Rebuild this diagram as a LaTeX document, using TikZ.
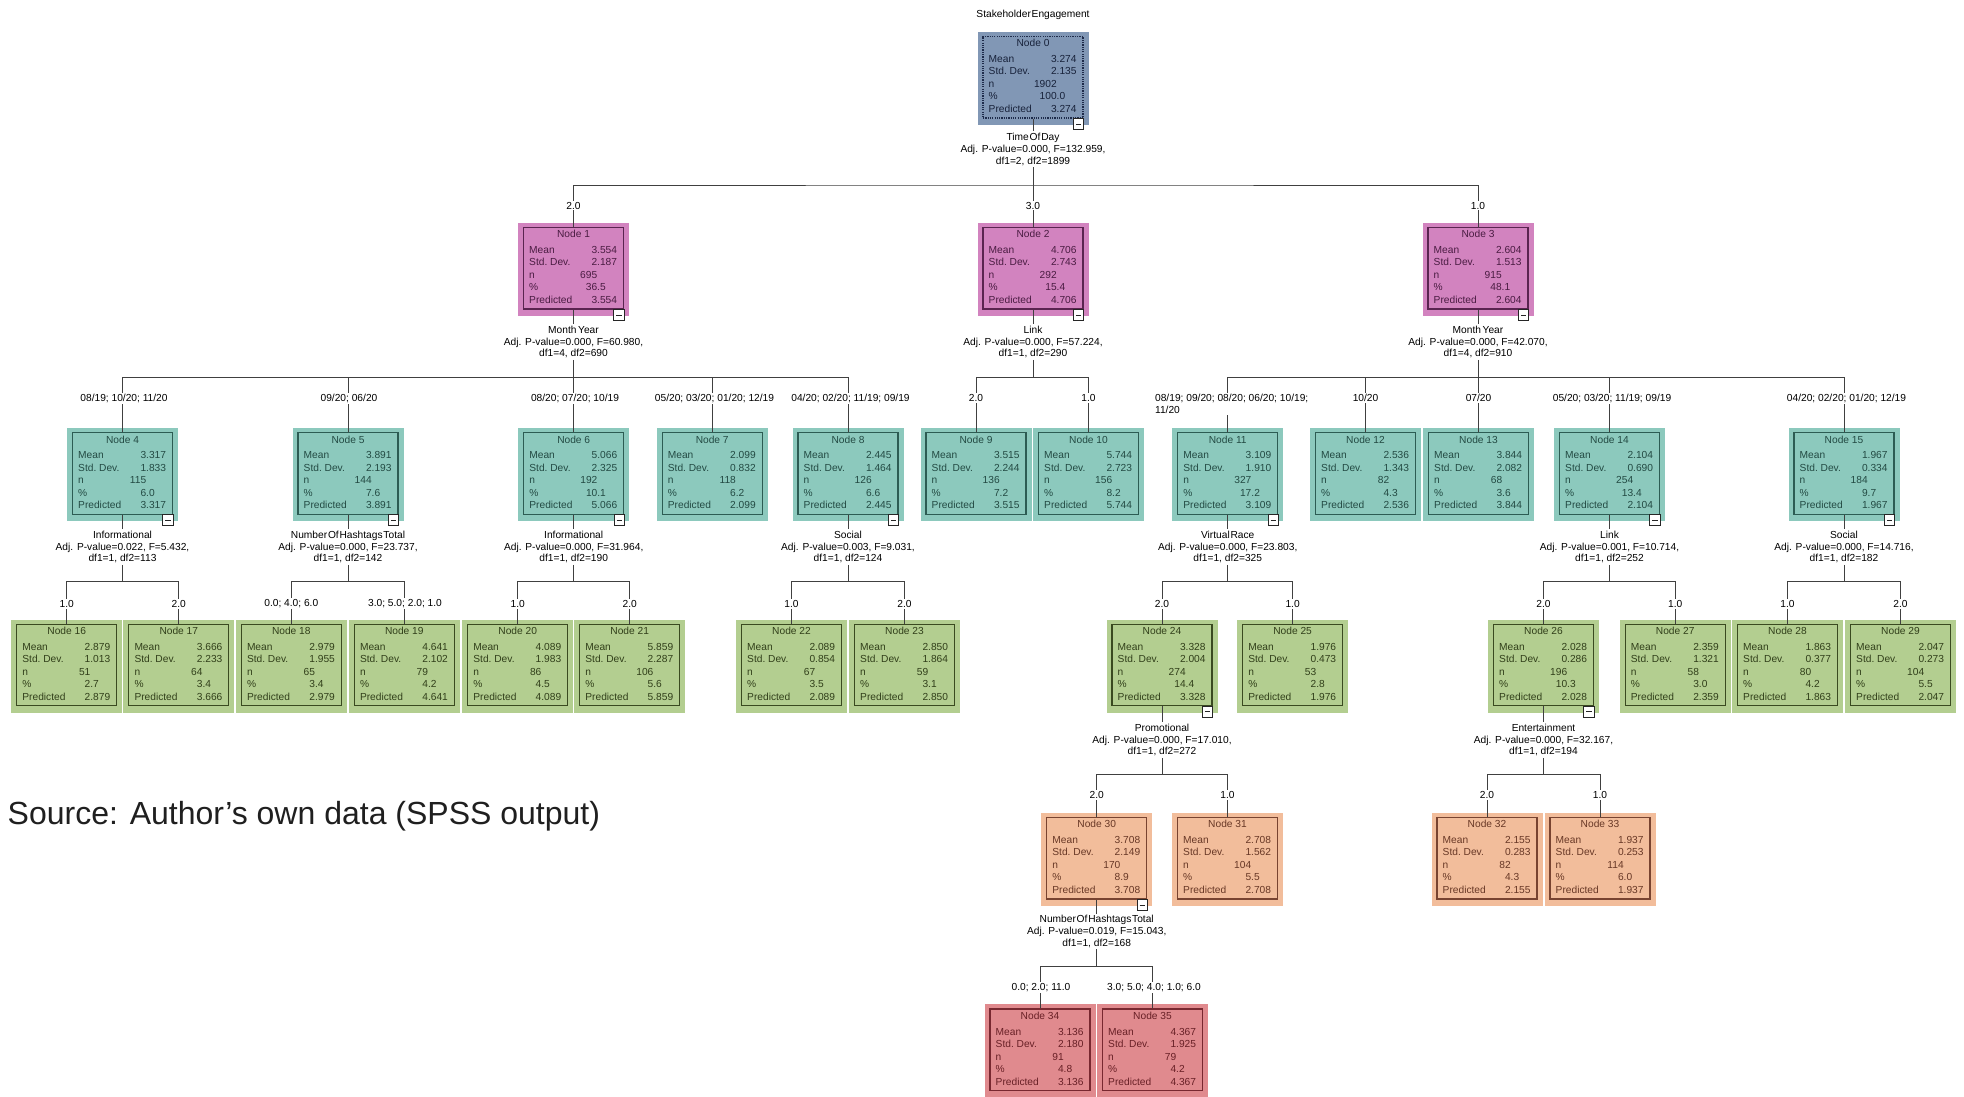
\documentclass[tikz,border=0pt]{standalone}
\usepackage{fontspec}
\setmainfont{Liberation Sans}
\usetikzlibrary{calc}

% line and level colours (background, border, text)
\definecolor{linec}{HTML}{404040}
\definecolor{bg0}{HTML}{8197B5}\definecolor{bd0}{HTML}{1E2B4A}\definecolor{tx0}{HTML}{18223A}
\definecolor{bg1}{HTML}{D283BF}\definecolor{bd1}{HTML}{5A2450}\definecolor{tx1}{HTML}{4A1C42}
\definecolor{bg2}{HTML}{8CC9BD}\definecolor{bd2}{HTML}{2C5C53}\definecolor{tx2}{HTML}{234A43}
\definecolor{bg3}{HTML}{B3CE90}\definecolor{bd3}{HTML}{3A4A20}\definecolor{tx3}{HTML}{313F1A}
\definecolor{bg4}{HTML}{F2BD9B}\definecolor{bd4}{HTML}{784330}\definecolor{tx4}{HTML}{683826}
\definecolor{bg5}{HTML}{E08A8E}\definecolor{bd5}{HTML}{782830}\definecolor{tx5}{HTML}{682026}

\newcommand\tfont{\fontsize{10.2}{11.8}\selectfont}
\newcommand\vk{\kern0.8pt}

% number aligned on its decimal point
\def\dec#1{\decA#1..\relax}
\def\decA#1.#2.#3\relax{\llap{#1}\if\relax\detokenize{#2}\relax\else\rlap{.#2}\fi}

% one statistics row: name, centre x, baseline y, level, label, value
\newcommand\statrow[6]{%
  \node[slab,text=tx#4] (#1l) at (#2-44.5,#3) {#5};
  \node[sval,text=tx#4] (#1v) at (#2+23.7,#3) {\dec{#6}};}

\def\rows#1#2#3#4#5,#6,#7,#8,#9\relax{%
  \statrow{#1a}{#2}{#3+26.7}{#4}{Mean}{#5}%
  \statrow{#1b}{#2}{#3+39.2}{#4}{Std.\ Dev.}{#6}%
  \statrow{#1c}{#2}{#3+51.7}{#4}{n}{#7}%
  \statrow{#1d}{#2}{#3+64.2}{#4}{\%}{#8}%
  \statrow{#1e}{#2}{#3+76.7}{#4}{Predicted}{#9}}

% tree node: name, centre x, top y, level, number, statistics
\newcommand\tn[6]{%
  \fill[bg#4] (#2-55.5,#3-4) rectangle (#2+55.5,#3+89);
  \node[tbox,draw=bd#4,lv#4/.try] (#1) at (#2,#3) {};
  \node[ttl,text=tx#4] (#1t) at (#2,#3+11.2) {Node #5};
  \rows{#1}{#2}{#3}{#4}#6\relax}

% collapse marker under an expanded node
\newcommand\collapse[1]{%
  \draw[mbox] ($(#1.south east)+(-10.3,0)$) rectangle ($(#1.south east)+(0,11)$);
  \draw[mbox] ($(#1.south east)+(-7.8,5.5)$) -- ($(#1.south east)+(-2.5,5.5)$);}

\begin{document}
\begin{tikzpicture}[x=1pt,y=-1pt,
  tbox/.style={rectangle,line width=1.3pt,minimum width=100pt,minimum height=81.5pt,inner sep=0pt,anchor=north},
  lv0/.style={dash pattern=on 1.2pt off 1.1pt,line width=1.7pt},
  ttl/.style={anchor=base,inner sep=0pt,font=\tfont},
  slab/.style={anchor=base west,inner sep=0pt,font=\tfont},
  sval/.style={anchor=base,inner sep=0pt,font=\tfont},
  split/.style={align=center,font=\tfont,inner sep=1.5pt,text=black},
  clab/.style={font=\tfont,inner sep=1.2pt,text=black,fill=white},
  conn/.style={draw=linec,line width=1pt},
  mbox/.style={draw=black!85,line width=0.9pt,fill=white}]

\fill[white] (0,0) rectangle (1964,1096);
\useasboundingbox (0,0) rectangle (1964,1096);
\clip (0,0) rectangle (1964,1096);

\node[clab] (title) at (1033,15) {Stakeholder\vk Engagement};

% nodes
\tn{n0}{1033}{35.7}{0}{0}{3.274,2.135,1902,100.0,3.274}
\tn{n1}{573.5}{226.7}{1}{1}{3.554,2.187,695,36.5,3.554}
\tn{n2}{1033}{226.7}{1}{2}{4.706,2.743,292,15.4,4.706}
\tn{n3}{1478}{226.7}{1}{3}{2.604,1.513,915,48.1,2.604}
\tn{n4}{122.5}{432}{2}{4}{3.317,1.833,115,6.0,3.317}
\tn{n5}{348}{432}{2}{5}{3.891,2.193,144,7.6,3.891}
\tn{n6}{573.7}{432}{2}{6}{5.066,2.325,192,10.1,5.066}
\tn{n7}{712.2}{432}{2}{7}{2.099,0.832,118,6.2,2.099}
\tn{n8}{848}{432}{2}{8}{2.445,1.464,126,6.6,2.445}
\tn{n9}{976}{432}{2}{9}{3.515,2.244,136,7.2,3.515}
\tn{n10}{1088.5}{432}{2}{10}{5.744,2.723,156,8.2,5.744}
\tn{n11}{1227.7}{432}{2}{11}{3.109,1.910,327,17.2,3.109}
\tn{n12}{1365.5}{432}{2}{12}{2.536,1.343,82,4.3,2.536}
\tn{n13}{1478.5}{432}{2}{13}{3.844,2.082,68,3.6,3.844}
\tn{n14}{1609.5}{432}{2}{14}{2.104,0.690,254,13.4,2.104}
\tn{n15}{1844}{432}{2}{15}{1.967,0.334,184,9.7,1.967}
\tn{n16}{66.7}{623.5}{3}{16}{2.879,1.013,51,2.7,2.879}
\tn{n17}{178.8}{623.5}{3}{17}{3.666,2.233,64,3.4,3.666}
\tn{n18}{291.3}{623.5}{3}{18}{2.979,1.955,65,3.4,2.979}
\tn{n19}{404.3}{623.5}{3}{19}{4.641,2.102,79,4.2,4.641}
\tn{n20}{517.7}{623.5}{3}{20}{4.089,1.983,86,4.5,4.089}
\tn{n21}{629.7}{623.5}{3}{21}{5.859,2.287,106,5.6,5.859}
\tn{n22}{791.5}{623.5}{3}{22}{2.089,0.854,67,3.5,2.089}
\tn{n23}{904.5}{623.5}{3}{23}{2.850,1.864,59,3.1,2.850}
\tn{n24}{1162}{623.5}{3}{24}{3.328,2.004,274,14.4,3.328}
\tn{n25}{1292.6}{623.5}{3}{25}{1.976,0.473,53,2.8,1.976}
\tn{n26}{1543.5}{623.5}{3}{26}{2.028,0.286,196,10.3,2.028}
\tn{n27}{1675.2}{623.5}{3}{27}{2.359,1.321,58,3.0,2.359}
\tn{n28}{1787.5}{623.5}{3}{28}{1.863,0.377,80,4.2,1.863}
\tn{n29}{1900.5}{623.5}{3}{29}{2.047,0.273,104,5.5,2.047}
\tn{n30}{1096.7}{816.7}{4}{30}{3.708,2.149,170,8.9,3.708}
\tn{n31}{1227.5}{816.7}{4}{31}{2.708,1.562,104,5.5,2.708}
\tn{n32}{1487}{816.7}{4}{32}{2.155,0.283,82,4.3,2.155}
\tn{n33}{1600}{816.7}{4}{33}{1.937,0.253,114,6.0,1.937}
\tn{n34}{1040}{1008.3}{5}{34}{3.136,2.180,91,4.8,3.136}
\tn{n35}{1152.5}{1008.3}{5}{35}{4.367,1.925,79,4.2,4.367}

% split descriptions
\node[split] (s0) at (1033,149.3) {Time\vk Of\vk Day\\Adj. P-value=0.000, F=132.959,\\df1=2, df2=1899};
\node[split] (s1) at (573.5,342) {Month\vk\vk Year\\Adj. P-value=0.000, F=60.980,\\df1=4, df2=690};
\node[split] (s2) at (1033,342) {Link\\Adj. P-value=0.000, F=57.224,\\df1=1, df2=290};
\node[split] (s3) at (1478,342) {Month\vk\vk Year\\Adj. P-value=0.000, F=42.070,\\df1=4, df2=910};
\node[split] (s4) at (122.5,547) {Informational\\Adj. P-value=0.022, F=5.432,\\df1=1, df2=113};
\node[split] (s5) at (348,547) {Number\vk Of\vk Hashtags\vk Total\\Adj. P-value=0.000, F=23.737,\\df1=1, df2=142};
\node[split] (s6) at (573.7,547) {Informational\\Adj. P-value=0.000, F=31.964,\\df1=1, df2=190};
\node[split] (s8) at (848,547) {Social\\Adj. P-value=0.003, F=9.031,\\df1=1, df2=124};
\node[split] (s11) at (1227.7,547) {Virtual\vk Race\\Adj. P-value=0.000, F=23.803,\\df1=1, df2=325};
\node[split] (s14) at (1609.5,547) {Link\\Adj. P-value=0.001, F=10.714,\\df1=1, df2=252};
\node[split] (s15) at (1844,547) {Social\\Adj. P-value=0.000, F=14.716,\\df1=1, df2=182};
\node[split] (s24) at (1162,740) {Promotional\\Adj. P-value=0.000, F=17.010,\\df1=1, df2=272};
\node[split] (s26) at (1543.5,740) {Entertainment\\Adj. P-value=0.000, F=32.167,\\df1=1, df2=194};
\node[split] (s30) at (1096.7,931.5) {Number\vk Of\vk Hashtags\vk Total\\Adj. P-value=0.019, F=15.043,\\df1=1, df2=168};

% bus points
\coordinate (b0) at (1033,185);
\coordinate (b1) at (573.5,377.7);
\coordinate (b2) at (1033,377.7);
\coordinate (b3) at (1478,377.7);
\coordinate (b4) at (122.5,581.7);
\coordinate (b5) at (348,581.7);
\coordinate (b6) at (573.7,581.7);
\coordinate (b8) at (848,581.7);
\coordinate (b11) at (1227.7,581.7);
\coordinate (b14) at (1609.5,581.7);
\coordinate (b15) at (1844,581.7);
\coordinate (b24) at (1162,774);
\coordinate (b26) at (1543.5,774);
\coordinate (b30) at (1096.7,966.7);

% connectors
\draw[conn] (n0.south) -- (s0.north) (s0.south) -- (b0);
\draw[conn] (n1.north) |- (b0) -| (n3.north);
\draw[conn] (n2.north) -- (n2.north |- b0);

\draw[conn] (n1.south) -- (s1.north) (s1.south) -- (b1);
\draw[conn] (n4.north) |- (b1) -| (n8.north);
\draw[conn] (n5.north) -- (n5.north |- b1);
\draw[conn] (n6.north) -- (n6.north |- b1);
\draw[conn] (n7.north) -- (n7.north |- b1);

\draw[conn] (n2.south) -- (s2.north) (s2.south) -- (b2);
\draw[conn] (n9.north) |- (b2) -| (n10.north);

\draw[conn] (n3.south) -- (s3.north) (s3.south) -- (b3);
\draw[conn] (n11.north) |- (b3) -| (n15.north);
\draw[conn] (n12.north) -- (n12.north |- b3);
\draw[conn] (n13.north) -- (n13.north |- b3);
\draw[conn] (n14.north) -- (n14.north |- b3);

\draw[conn] (n4.south) -- (s4.north) (s4.south) -- (b4);
\draw[conn] (n16.north) |- (b4) -| (n17.north);
\draw[conn] (n5.south) -- (s5.north) (s5.south) -- (b5);
\draw[conn] (n18.north) |- (b5) -| (n19.north);
\draw[conn] (n6.south) -- (s6.north) (s6.south) -- (b6);
\draw[conn] (n20.north) |- (b6) -| (n21.north);
\draw[conn] (n8.south) -- (s8.north) (s8.south) -- (b8);
\draw[conn] (n22.north) |- (b8) -| (n23.north);
\draw[conn] (n11.south) -- (s11.north) (s11.south) -- (b11);
\draw[conn] (n24.north) |- (b11) -| (n25.north);
\draw[conn] (n14.south) -- (s14.north) (s14.south) -- (b14);
\draw[conn] (n26.north) |- (b14) -| (n27.north);
\draw[conn] (n15.south) -- (s15.north) (s15.south) -- (b15);
\draw[conn] (n28.north) |- (b15) -| (n29.north);

\draw[conn] (n24.south) -- (s24.north) (s24.south) -- (b24);
\draw[conn] (n30.north) |- (b24) -| (n31.north);
\draw[conn] (n26.south) -- (s26.north) (s26.south) -- (b26);
\draw[conn] (n32.north) |- (b26) -| (n33.north);

\draw[conn] (n30.south) -- (s30.north) (s30.south) -- (b30);
\draw[conn] (n34.north) |- (b30) -| (n35.north);

% branch labels, set over the connectors
\node[clab] (c1) at (573.5,205.5) {2.0};
\node[clab] (c2) at (1033,205.5) {3.0};
\node[clab] (c3) at (1478,205.5) {1.0};
\node[clab] (c4) at (124,398.3) {08/19; 10/20; 11/20};
\node[clab] (c5) at (349,398.3) {09/20; 06/20};
\node[clab] (c6) at (575,398.3) {08/20; 07/20; 10/19};
\node[clab] (c7) at (714.5,398.3) {05/20; 03/20; 01/20; 12/19};
\node[clab] (c8) at (850.5,398.3) {04/20; 02/20; 11/19; 09/19};
\node[clab] (c9) at (976,398.3) {2.0};
\node[clab] (c10) at (1088.5,398.3) {1.0};
\node[clab,align=left,anchor=north west,inner sep=1.5pt,minimum width=162pt] (c11) at (1150.5,392.5) {08/19; 09/20; 08/20; 06/20; 10/19;\\11/20};
\node[clab] (c12) at (1365.5,398.3) {10/20};
\node[clab] (c13) at (1478.5,398.3) {07/20};
\node[clab] (c14) at (1612,398.3) {05/20; 03/20; 11/19; 09/19};
\node[clab] (c15) at (1846.5,398.3) {04/20; 02/20; 01/20; 12/19};
\node[clab] (c16) at (66.7,603.8) {1.0};
\node[clab] (c17) at (178.8,603.8) {2.0};
\node[clab] (c18) at (291.3,603.8) {0.0; 4.0; 6.0};
\node[clab] (c19) at (405,603.8) {3.0; 5.0; 2.0; 1.0};
\node[clab] (c20) at (517.7,603.8) {1.0};
\node[clab] (c21) at (629.7,603.8) {2.0};
\node[clab] (c22) at (791.5,603.8) {1.0};
\node[clab] (c23) at (904.5,603.8) {2.0};
\node[clab] (c24) at (1162,603.8) {2.0};
\node[clab] (c25) at (1292.6,603.8) {1.0};
\node[clab] (c26) at (1543.5,603.8) {2.0};
\node[clab] (c27) at (1675.2,603.8) {1.0};
\node[clab] (c28) at (1787.5,603.8) {1.0};
\node[clab] (c29) at (1900.5,603.8) {2.0};
\node[clab] (c30) at (1096.7,795) {2.0};
\node[clab] (c31) at (1227.5,795) {1.0};
\node[clab] (c32) at (1487,795) {2.0};
\node[clab] (c33) at (1600,795) {1.0};
\node[clab] (c34) at (1041,987.7) {0.0; 2.0; 11.0};
\node[clab] (c35) at (1154,987.7) {3.0; 5.0; 4.0; 1.0; 6.0};

% collapse markers
\collapse{n0}\collapse{n1}\collapse{n2}\collapse{n3}
\collapse{n4}\collapse{n5}\collapse{n6}\collapse{n8}
\collapse{n11}\collapse{n14}\collapse{n15}
\collapse{n24}\collapse{n26}\collapse{n30}

% caption
\node[anchor=base west,inner sep=0pt,font=\fontsize{32}{38}\selectfont,text=black!88] (src) at (7.5,824) {Source: Author’s own data (SPSS output)};
\end{tikzpicture}
\end{document}
